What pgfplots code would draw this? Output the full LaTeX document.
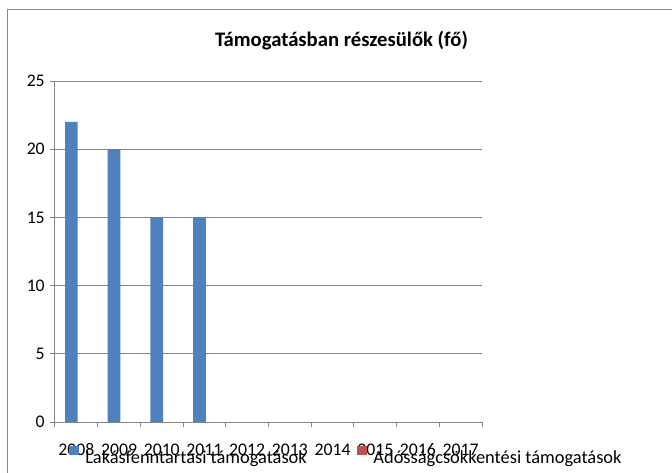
\documentclass[border=0pt]{standalone}
\usepackage{pgfplots}
\pgfplotsset{compat=1.18}
\usepackage{fontspec}
\setmainfont{Carlito}
\definecolor{xlblue}{HTML}{4F81BD}
\definecolor{xlred}{HTML}{C0504D}
\definecolor{xlgray}{HTML}{868686}
\newcommand{\xlfont}{\fontsize{13.3}{15}\selectfont}
\begin{document}
\begin{tikzpicture}
% page of 672 x 472 px, 1px = 0.75pt
\useasboundingbox (0pt,0pt) rectangle (504pt,354pt);
\draw[xlgray, line width=0.75pt] (5.25pt,-5pt) -- (5.25pt,346.5pt) -- (510pt,346.5pt);
\node[font=\bfseries\fontsize{15.5}{17}\selectfont, anchor=base] at (256.1pt,318.75pt) {Támogatásban részesülők (fő)};
\begin{axis}[
  at={(41.25pt,37.5pt)}, anchor=south west,
  scale only axis, width=320.25pt, height=255.75pt,
  xmin=-0.5, xmax=9.5, ymin=0, ymax=25,
  xtick={0,1,2,3,4,5,6,7,8,9},
  xticklabels={2008,2009,2010,2011,2012,2013,2014,2015,2016,2017},
  minor xtick={-0.5,0.5,1.5,2.5,3.5,4.5,5.5,6.5,7.5,8.5,9.5},
  ytick={0,5,10,15,20,25},
  tick align=outside, major tick length=3.75pt, minor tick length=3.75pt,
  major x tick style={draw=none},
  minor x tick style={xlgray, line width=0.75pt},
  ytick style={xlgray, line width=0.75pt},
  axis x line*=bottom, axis y line*=left,
  axis line style={xlgray, line width=0.75pt, -},
  ymajorgrids, grid style={xlgray, line width=0.75pt},
  ybar, bar width=9.5pt,
  font=\xlfont,
  /pgf/number format/assume math mode=true,
  xticklabel style={anchor=base, inner sep=0pt, yshift=-21pt},
  yticklabel style={anchor=east, inner sep=0pt, xshift=-3.75pt},
  legend columns=2,
  legend style={at={(axis description cs:0,0)}, anchor=north west,
    xshift=10.5pt, yshift=-18pt, draw=none, fill=none, inner sep=0pt,
    nodes={inner sep=0pt, font=\fontsize{13.8}{15}\selectfont},
    /tikz/every odd column/.append style={column sep=4.5pt},
    /tikz/every even column/.append style={column sep=38pt}},
  legend image code/.code={\fill[#1] (0pt,2.25pt) rectangle (7.5pt,9pt);},
]
\addplot[fill=xlblue, draw=none, bar shift=-3.75pt] coordinates
  {(0,22) (1,20) (2,15) (3,15) (4,0) (5,0) (6,0) (7,0) (8,0) (9,0)};
\addlegendentry{Lakásfenntartási támogatások}
\addplot[fill=xlred, draw=none, bar shift=5.75pt] coordinates
  {(0,0) (1,0) (2,0) (3,0) (4,0) (5,0) (6,0) (7,0) (8,0) (9,0)};
\addlegendentry{Adósságcsökkentési támogatások}
\end{axis}
\end{tikzpicture}
\end{document}
